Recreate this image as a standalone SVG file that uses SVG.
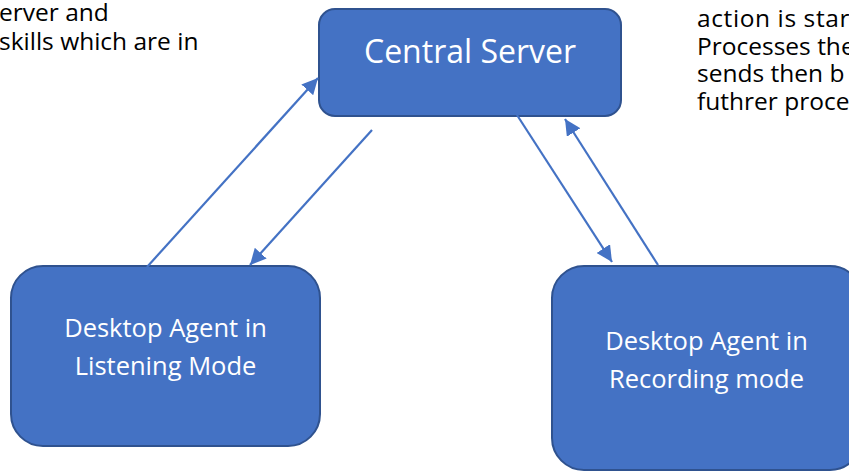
<svg xmlns="http://www.w3.org/2000/svg" width="849" height="473" viewBox="0 0 849 473">
<style>
.box{fill:#4472C4;stroke:#2F528F;stroke-width:2}
.lbl{font-family:"Open Sans","Liberation Sans",sans-serif;fill:#ffffff;text-anchor:middle}
.note{font-family:"Open Sans","Liberation Sans",sans-serif;fill:#000000;font-size:24.5px}
.conn{stroke:#4472C4;stroke-width:2.2;fill:none;marker-end:url(#ah)}
</style>
<defs>
<marker id="ah" markerUnits="userSpaceOnUse" markerWidth="18" markerHeight="16" refX="16" refY="8" orient="auto">
<path d="M0,0 L16,8 L0,16 Z" fill="#4472C4"/>
</marker>
</defs>
<g id="note-left">
<text class="note" x="-1" y="21">erver and</text>
<text class="note" x="-1" y="50">skills which are in</text>
</g>
<g id="note-right">
<text class="note" x="697" y="27" letter-spacing="0.6">action is star</text>
<text class="note" x="697" y="55">Processes the</text>
<text class="note" x="697" y="82">sends then b</text>
<text class="note" x="697" y="110">futhrer proce</text>
</g>
<g id="central-server">
<rect class="box" x="319" y="9" width="302" height="107" rx="16"/>
<text class="lbl" x="470" y="63" font-size="32">Central Server</text>
</g>
<g id="agent-listening">
<rect class="box" x="11" y="266" width="309" height="180" rx="32"/>
<text class="lbl" x="165.5" y="337" font-size="25.5">Desktop Agent in</text>
<text class="lbl" x="165.5" y="375" font-size="25.5">Listening Mode</text>
</g>
<g id="agent-recording">
<rect class="box" x="552" y="266" width="310" height="204" rx="32"/>
<text class="lbl" x="706.5" y="350" font-size="25.5">Desktop Agent in</text>
<text class="lbl" x="706.5" y="388" font-size="25.5">Recording mode</text>
</g>
<g id="connectors">
<line class="conn" x1="147" y1="267" x2="318" y2="78"/>
<line class="conn" x1="372" y1="130" x2="250" y2="265"/>
<line class="conn" x1="517" y1="115" x2="612" y2="262"/>
<line class="conn" x1="658" y1="265" x2="565" y2="119"/>
</g>
</svg>
